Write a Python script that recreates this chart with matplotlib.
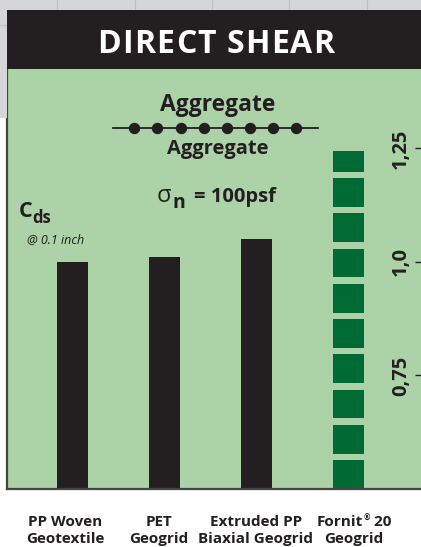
import matplotlib
matplotlib.use("Agg")
import matplotlib.pyplot as plt
from matplotlib.patches import Rectangle
from matplotlib.lines import Line2D
import matplotlib.transforms as mtransforms

# ---------------- data ----------------
categories = ["PP Woven\nGeotextile", "PET\nGeogrid", "Extruded PP\nBiaxial Geogrid", "Fornit\u00ae 20\nGeogrid"]
cds_values = [1.00, 1.01, 1.05, 1.245]
ytick_values = [0.75, 1.0, 1.25]
ytick_labels = ["0,75", "1,0", "1,25"]
title_text = "DIRECT SHEAR"

# ---------------- style ----------------
W, H = 421, 547
DPI = 100
GREEN_BG = "#acd2a7"
DARK = "#231f20"
FORNIT = "#006a35"
FONT = "Open Sans"
plt.rcParams["font.family"] = [FONT, "DejaVu Sans"]

def fx(px):
    return px / W

def fy(py):
    return 1 - py / H

fig = plt.figure(figsize=(W / DPI, H / DPI), dpi=DPI, facecolor="white")
renderer = fig.canvas.get_renderer()

def text_width_px(s, **kw):
    t = fig.text(0, 0, s, **kw)
    w = t.get_window_extent(renderer=renderer).width
    t.remove()
    return w

# background page bits (top strip + left strip)
fig.patches.append(Rectangle((0, fy(10)), 1, 10 / H, transform=fig.transFigure,
                             facecolor="#d5d6d8", edgecolor="none", zorder=0))
fig.patches.append(Rectangle((0, fy(118)), fx(7), 118 / H, transform=fig.transFigure,
                             facecolor="#d5d6d8", edgecolor="none", zorder=0))
for vx in [57, 135, 212, 289, 367]:
    fig.lines.append(Line2D([fx(vx), fx(vx)], [fy(10), 1], transform=fig.transFigure,
                            color="#bfc0c2", lw=0.8, zorder=0.5))
fig.lines.append(Line2D([0, fx(7)], [fy(25), fy(25)], transform=fig.transFigure,
                        color="#bfc0c2", lw=0.8, zorder=0.5))

# header
fig.patches.append(Rectangle((fx(7), fy(69)), 1 - fx(7), 59 / H, transform=fig.transFigure,
                             facecolor=DARK, edgecolor="none", zorder=1))
# title with letter spacing
title_kw = dict(fontsize=23, fontweight="bold", color="white")
tracking = 1.2
space_w = text_width_px("A A", **title_kw) - 2 * text_width_px("A", **title_kw)
char_w = [space_w if c == " " else text_width_px(c, **title_kw) for c in title_text]
total = sum(char_w) + tracking * (len(title_text) - 1)
cx = 216 - total / 2
for c, w in zip(title_text, char_w):
    if c != " ":
        fig.text(fx(cx), fy(53), c, ha="left", va="baseline", zorder=2, **title_kw)
    cx += w + tracking

# main axes (green panel)
ax_left, ax_right, ax_top, ax_bottom = 7, 421, 69, 489
ax = fig.add_axes([fx(ax_left), fy(ax_bottom), fx(ax_right) - fx(ax_left), (ax_bottom - ax_top) / H])
ax.set_facecolor(GREEN_BG)

px_per_unit = 454.0
ymin = 0.5
ymax = ymin + (ax_bottom - ax_top) / px_per_unit
ax.set_ylim(ymin, ymax)

px_per_cat = 92.0
first_center = 72.0
xmin = -(first_center - ax_left) / px_per_cat
xmax = xmin + (ax_right - ax_left) / px_per_cat
ax.set_xlim(xmin, xmax)

bar_w = 31 / px_per_cat
xs = list(range(len(categories)))

# regular dark bars
ax.bar(xs[:3], [v - ymin for v in cds_values[:3]], bottom=ymin, width=bar_w,
       color=DARK, edgecolor="none", zorder=2)

# Fornit bar drawn as segmented blocks
seg_pitch = 35.25 / px_per_unit
seg_h = 28.8 / px_per_unit
b = ymin
top = cds_values[3]
seg_bottoms, seg_heights = [], []
while b < top - 1e-9:
    seg_bottoms.append(b)
    seg_heights.append(min(seg_h, top - b))
    b += seg_pitch
ax.bar([xs[3]] * len(seg_bottoms), seg_heights, bottom=seg_bottoms, width=bar_w,
       color=FORNIT, edgecolor="none", zorder=2)

# spines
for s in ["top", "right"]:
    ax.spines[s].set_visible(False)
ax.spines["left"].set_color("#444444")
ax.spines["left"].set_linewidth(1.6)
ax.spines["bottom"].set_color("#444444")
ax.spines["bottom"].set_linewidth(1.6)

ax.set_xticks([])
ax.yaxis.tick_right()
ax.set_yticks(ytick_values)
ax.set_yticklabels([])
ax.tick_params(axis="y", direction="in", length=4, width=1, color=DARK, right=True, left=False)

ytrans = mtransforms.blended_transform_factory(fig.transFigure, ax.transData)
for v, lab in zip(ytick_values, ytick_labels):
    t = fig.text(0, 0, lab, transform=ytrans, rotation=90, ha="center", va="center",
                 fontsize=14.5, fontweight="bold", color=DARK)
    t.set_position((fx(401), v))

# in-panel annotations
fig.text(fx(218), fy(111), "Aggregate", ha="center", va="baseline", fontsize=16.5,
         fontweight="bold", color=DARK)
fig.text(fx(218), fy(154), "Aggregate", ha="center", va="baseline", fontsize=14.5,
         fontweight="bold", color=DARK)
fig.lines.append(Line2D([fx(113), fx(318)], [fy(128), fy(128)], transform=fig.transFigure,
                        color=DARK, lw=1.3, zorder=3))
dot_x = [134, 157, 181, 204, 227, 250, 273, 296]
fig.lines.append(Line2D([fx(d) for d in dot_x], [fy(128)] * len(dot_x), transform=fig.transFigure,
                        color=DARK, lw=0, marker="o", markersize=7.2, zorder=3))

fig.text(fx(157), fy(202), "\u03c3", ha="left", va="baseline", fontsize=17, color=DARK)
fig.text(fx(173), fy(208), "n", ha="left", va="baseline", fontsize=14, fontweight="bold", color=DARK)
fig.text(fx(276), fy(202), "= 100psf", ha="right", va="baseline", fontsize=14.5,
         fontweight="bold", color=DARK)

fig.text(fx(19), fy(217), "C", ha="left", va="baseline", fontsize=15.5, fontweight="bold", color=DARK)
fig.text(fx(32.5), fy(223), "ds", ha="left", va="baseline", fontsize=12, fontweight="bold", color=DARK)
fig.text(fx(27), fy(243), "@ 0.1 inch", ha="left", va="baseline", fontsize=9, style="italic", color=DARK)

# category labels below the panel
label_offsets_px = [-7, -5, 0, 6]
lab_kw = dict(fontsize=11, fontweight="bold", color=DARK)
sup_kw = dict(fontsize=5.5, fontweight="bold", color=DARK)
line_baselines = [526, 543]
for x, lab, off in zip(xs, categories, label_offsets_px):
    center_px = ax_left + (x - xmin) * px_per_cat + off
    for line, base in zip(lab.split("\n"), line_baselines):
        if "\u00ae" in line:
            pre, post = line.split("\u00ae")
            w1 = text_width_px(pre, **lab_kw)
            w2 = text_width_px("\u00ae", **sup_kw) + 1
            w3 = text_width_px(post, **lab_kw)
            start = center_px - (w1 + w2 + w3) / 2
            fig.text(fx(start), fy(base), pre, ha="left", va="baseline", **lab_kw)
            fig.text(fx(start + w1 + 0.5), fy(base - 5), "\u00ae", ha="left", va="baseline", **sup_kw)
            fig.text(fx(start + w1 + w2), fy(base), post, ha="left", va="baseline", **lab_kw)
        else:
            fig.text(fx(center_px), fy(base), line, ha="center", va="baseline", **lab_kw)

fig.savefig("out.png", dpi=DPI, facecolor="white")
